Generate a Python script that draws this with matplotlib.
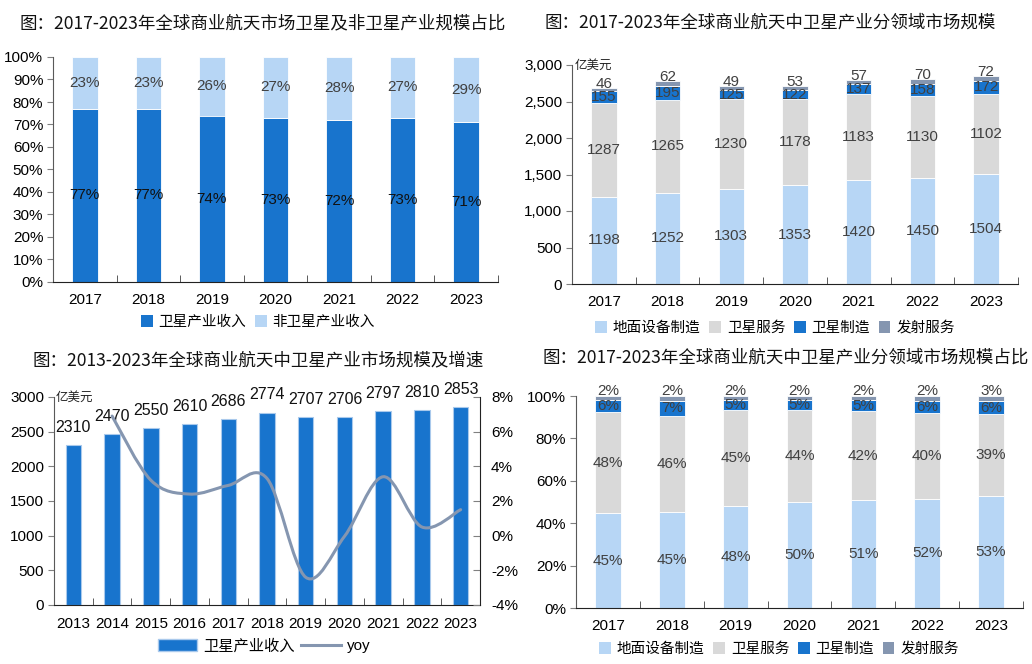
import numpy as np
import matplotlib
matplotlib.use("Agg")
import matplotlib.pyplot as plt
from matplotlib.path import Path
from matplotlib.patches import PathPatch, Patch
from matplotlib.lines import Line2D
from matplotlib.ticker import FuncFormatter, FixedLocator

plt.rcParams['font.family'] = ['Liberation Sans', 'Noto Sans CJK SC']

# ---- data ----
years7 = ['2017', '2018', '2019', '2020', '2021', '2022', '2023']
sat_share = [77, 77, 74, 73, 72, 73, 71]
nonsat_share = [23, 23, 26, 27, 28, 27, 29]

ground = [1198, 1252, 1303, 1353, 1420, 1450, 1504]
sat_service = [1287, 1265, 1230, 1178, 1183, 1130, 1102]
sat_manuf = [155, 195, 125, 122, 137, 158, 172]
launch = [46, 62, 49, 53, 57, 70, 72]

years11 = ['2013', '2014', '2015', '2016', '2017', '2018', '2019', '2020', '2021', '2022', '2023']
sat_revenue = [2310, 2470, 2550, 2610, 2686, 2774, 2707, 2706, 2797, 2810, 2853]
yoy_years = years11[1:]
yoy = [6.9, 3.2, 2.4, 2.9, 3.3, -2.4, -0.04, 3.4, 0.5, 1.5]

share_labels = ['地面设备制造', '卫星服务', '卫星制造', '发射服务']

# ---- styling ----
DARK = '#1874CD'
LIGHT = '#B7D6F5'
GREY = '#D9D9D9'
SLATE = '#8596B0'
TXT = '#404040'
CJK = ['Noto Sans CJK SC']
W, H = 1032, 664

fig = plt.figure(figsize=(W / 100, H / 100), dpi=100)


def px_axes(x0, x1, y0, y1):
    return fig.add_axes([x0 / W, 1 - y1 / H, (x1 - x0) / W, (y1 - y0) / H])


def title(x, y, s):
    fig.text(x / W, 1 - y / H, s, ha='center', va='center', fontsize=12.6,
             family=CJK, color='#111111')


def style_axes(ax, n):
    ax.set_xlim(-0.5, n - 0.5)
    for s in ['top', 'right']:
        ax.spines[s].set_visible(False)
    ax.spines['left'].set_color('#595959')
    ax.spines['bottom'].set_color('#222222')
    ax.tick_params(axis='y', direction='out', length=4, color='#808080',
                   labelsize=11, pad=3)
    ax.set_xticks(range(n))
    ax.set_xticklabels(years7 if n == 7 else years11)
    ax.tick_params(axis='x', which='major', length=0, labelsize=11, pad=8)
    ax.xaxis.set_minor_locator(FixedLocator(np.arange(0.5, n, 1.0)))
    ax.tick_params(axis='x', which='minor', direction='in', length=5,
                   color='#404040')


def unit(ax):
    ax.text(0.005, 1.0, '亿美元', transform=ax.transAxes, ha='left', va='center',
            fontsize=9, family=CJK, style='italic', color='#222222')


def square_legend(x, y, colors, labels, ncol):
    handles = [Patch(facecolor=c, edgecolor='none') for c in colors]
    fig.legend(handles, labels, loc='center', bbox_to_anchor=(x / W, 1 - y / H),
               ncol=ncol, frameon=False, handlelength=0.8, handleheight=0.8,
               handletextpad=0.4, columnspacing=0.6,
               prop={'family': CJK, 'size': 10.5})


x7 = np.arange(len(years7))
x11 = np.arange(len(years11))
bw = 0.4

# ---- panel 1: share of satellite / non-satellite ----
title(263, 23, '图：2017-2023年全球商业航天市场卫星及非卫星产业规模占比')
ax1 = px_axes(53, 498, 57, 282)
ax1.bar(x7, sat_share, bw, color=DARK, edgecolor='white', linewidth=0.6)
ax1.bar(x7, nonsat_share, bw, bottom=sat_share, color=LIGHT, edgecolor='white',
        linewidth=0.6)
for i in x7:
    ax1.text(i, sat_share[i] / 2, f'{sat_share[i]}%', ha='center', va='center',
             fontsize=11, color='#111111')
    ax1.text(i, sat_share[i] + nonsat_share[i] / 2, f'{nonsat_share[i]}%',
             ha='center', va='center', fontsize=11, color=TXT)
ax1.set_ylim(0, 100)
ax1.set_yticks(range(0, 101, 10))
ax1.yaxis.set_major_formatter(FuncFormatter(lambda v, p: f'{v:.0f}%'))
style_axes(ax1, 7)
square_legend(258, 322, [DARK, LIGHT], ['卫星产业收入', '非卫星产业收入'], 2)

# ---- panel 2: satellite industry by segment ----
title(770, 23, '图：2017-2023年全球商业航天中卫星产业分领域市场规模')
ax2 = px_axes(572, 1018, 65, 284)
seg = [ground, sat_service, sat_manuf, launch]
cols = [LIGHT, GREY, DARK, SLATE]
bottom = np.zeros(7)
for k, (vals, c) in enumerate(zip(seg, cols)):
    vals = np.array(vals, dtype=float)
    ax2.bar(x7, vals, bw, bottom=bottom, color=c, edgecolor='white', linewidth=0.6)
    for i in x7:
        if k < 3:
            ax2.text(i, bottom[i] + vals[i] / 2, f'{vals[i]:.0f}', ha='center',
                     va='center', fontsize=11, color=TXT)
        else:
            ax2.annotate(f'{vals[i]:.0f}', (i, bottom[i] + vals[i]),
                         xytext=(0, 0), textcoords='offset points', ha='center',
                         va='baseline', fontsize=11, color=TXT)
    bottom += vals
ax2.set_ylim(0, 3000)
ax2.set_yticks(range(0, 3001, 500))
ax2.yaxis.set_major_formatter(FuncFormatter(lambda v, p: f'{v:,.0f}'))
style_axes(ax2, 7)
unit(ax2)
square_legend(775, 328, cols, share_labels, 4)

# ---- panel 3: satellite industry revenue and yoy ----
title(258, 360, '图：2013-2023年全球商业航天中卫星产业市场规模及增速')
ax3 = px_axes(54, 480, 397, 605)
ax3.bar(x11, sat_revenue, bw, color=DARK, edgecolor='#A9C9EC', linewidth=0.8)
for i in x11:
    ax3.annotate(f'{sat_revenue[i]}', (i, sat_revenue[i]), xytext=(0, 9.5),
                 textcoords='offset points', ha='center', va='baseline',
                 fontsize=11.5, color='#111111')
ax3.set_ylim(0, 3000)
ax3.set_yticks(range(0, 3001, 500))
style_axes(ax3, 11)
ax3.tick_params(axis='x', labelsize=11, pad=9)
unit(ax3)

ax3r = ax3.twinx()
ax3r.set_ylim(-4, 8)
ax3r.set_yticks(range(-4, 9, 2))
ax3r.yaxis.set_major_formatter(FuncFormatter(lambda v, p: f'{v:.0f}%'))
ax3r.tick_params(axis='y', direction='in', length=5, color='#808080',
                 labelsize=11, pad=8)
for s in ['top', 'left', 'bottom']:
    ax3r.spines[s].set_visible(False)
ax3r.spines['right'].set_color('#222222')

# smooth yoy line drawn as cubic bezier through the read points
pts = list(zip(x11[1:], yoy))
verts = [pts[0]]
codes = [Path.MOVETO]
for i in range(len(pts) - 1):
    p0 = pts[max(i - 1, 0)]
    p1 = pts[i]
    p2 = pts[i + 1]
    p3 = pts[min(i + 2, len(pts) - 1)]
    c1 = (p1[0] + (p2[0] - p0[0]) / 6, p1[1] + (p2[1] - p0[1]) / 6)
    c2 = (p2[0] - (p3[0] - p1[0]) / 6, p2[1] - (p3[1] - p1[1]) / 6)
    verts += [c1, c2, p2]
    codes += [Path.CURVE4] * 3
ax3r.add_patch(PathPatch(Path(verts, codes), facecolor='none', edgecolor=SLATE,
                         linewidth=2.2, capstyle='round'))

fig.legend([Patch(facecolor=DARK, edgecolor='#A9C9EC'),
            Line2D([], [], color=SLATE, linewidth=2.2)],
           ['卫星产业收入', 'yoy'], loc='center',
           bbox_to_anchor=(264 / W, 1 - 646 / H), ncol=2, frameon=False,
           handlelength=2.6, handleheight=0.8, handletextpad=0.4,
           columnspacing=0.4, prop={'family': ['Liberation Sans', 'Noto Sans CJK SC'],
                                    'size': 11})

# ---- panel 4: satellite industry segment shares ----
title(786, 358, '图：2017-2023年全球商业航天中卫星产业分领域市场规模占比')
ax4 = px_axes(576, 1023, 396, 608)
totals = np.sum([ground, sat_service, sat_manuf, launch], axis=0).astype(float)
bottom = np.zeros(7)
for k, (vals, c) in enumerate(zip(seg, cols)):
    share = np.array(vals) / totals * 100
    ax4.bar(x7, share, bw, bottom=bottom, color=c, edgecolor='white', linewidth=0.6)
    for i in x7:
        lab = f'{share[i]:.0f}%'
        if k < 3:
            ax4.text(i, bottom[i] + share[i] / 2, lab, ha='center', va='center',
                     fontsize=11, color=TXT)
        else:
            ax4.annotate(lab, (i, bottom[i] + share[i]), xytext=(0, 0.5),
                         textcoords='offset points', ha='center', va='baseline',
                         fontsize=11, color=TXT)
    bottom += share
ax4.set_ylim(0, 100)
ax4.set_yticks(range(0, 101, 20))
ax4.yaxis.set_major_formatter(FuncFormatter(lambda v, p: f'{v:.0f}%'))
style_axes(ax4, 7)
square_legend(779, 649, cols, share_labels, 4)

fig.savefig('out.png', dpi=100)
